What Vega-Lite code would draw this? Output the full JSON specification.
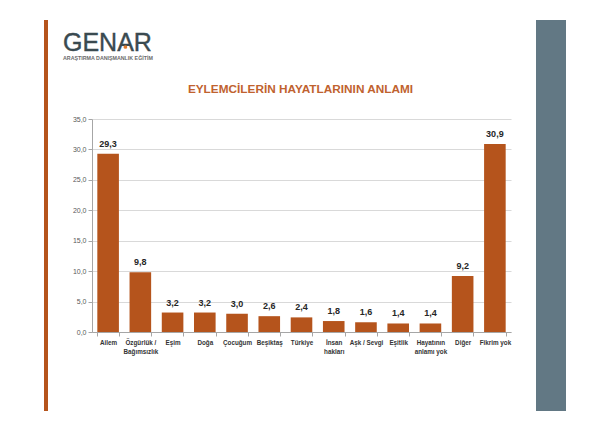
{
  "$schema": "https://vega.github.io/schema/vega-lite/v6.json",
  "width": 419,
  "height": 213,
  "autosize": {"type": "none"},
  "padding": {"left": 92, "top": 119, "right": 99, "bottom": 99},
  "background": "white",
  "config": {
    "view": {"stroke": null},
    "font": "Liberation Sans",
    "locale": {"number": {"decimal": ",", "thousands": ".", "grouping": [3], "currency": ["", " TL"]}}
  },
  "datasets": {
    "bars": [
      {"kategori": "Ailem", "deger": 29.3},
      {"kategori": "Özgürlük / Bağımsızlık", "deger": 9.8},
      {"kategori": "Eşim", "deger": 3.2},
      {"kategori": "Doğa", "deger": 3.2},
      {"kategori": "Çocuğum", "deger": 3.0},
      {"kategori": "Beşiktaş", "deger": 2.6},
      {"kategori": "Türkiye", "deger": 2.4},
      {"kategori": "İnsan hakları", "deger": 1.8},
      {"kategori": "Aşk / Sevgi", "deger": 1.6},
      {"kategori": "Eşitlik", "deger": 1.4},
      {"kategori": "Hayatının anlamı yok", "deger": 1.4},
      {"kategori": "Diğer", "deger": 9.2},
      {"kategori": "Fikrim yok", "deger": 30.9}
    ]
  },
  "layer": [
    {
      "data": {"name": "bars"},
      "encoding": {
        "x": {
          "field": "kategori",
          "type": "nominal",
          "sort": null,
          "scale": {"paddingInner": 0.33, "paddingOuter": 0.165},
          "axis": {
            "title": null,
            "labelAngle": 0,
            "tickBand": "extent",
            "tickSize": 4,
            "tickColor": "#a6a6a6",
            "domainColor": "#a6a6a6",
            "labelFontSize": 6.3,
            "labelFontWeight": "bold",
            "labelColor": "#333333",
            "labelPadding": 3,
            "labelLineHeight": 9,
            "labelExpr": "datum.value == 'Özgürlük / Bağımsızlık' ? ['Özgürlük /', 'Bağımsızlık'] : datum.value == 'İnsan hakları' ? ['İnsan', 'hakları'] : datum.value == 'Hayatının anlamı yok' ? ['Hayatının', 'anlamı yok'] : datum.value"
          }
        },
        "y": {
          "field": "deger",
          "type": "quantitative",
          "scale": {"domain": [0, 35]},
          "axis": {
            "title": null,
            "values": [0, 5, 10, 15, 20, 25, 30, 35],
            "labelOverlap": false,
            "format": ".1f",
            "grid": true,
            "gridColor": "#d9d9d9",
            "tickSize": 4,
            "tickColor": "#a6a6a6",
            "domainColor": "#a6a6a6",
            "labelFontSize": 7,
            "labelColor": "#595959",
            "labelPadding": 2
          }
        }
      },
      "layer": [
        {"mark": {"type": "bar", "color": "#B5541C"}},
        {
          "mark": {"type": "text", "dy": -5, "baseline": "bottom", "fontSize": 9, "fontWeight": "bold", "color": "#262626"},
          "encoding": {"text": {"field": "deger", "type": "quantitative", "format": ".1f"}}
        }
      ]
    },
    {
      "data": {"values": [{"t": "EYLEMCİLERİN HAYATLARININ ANLAMI"}]},
      "mark": {"type": "text", "align": "center", "baseline": "alphabetic", "fontSize": 11.8, "fontWeight": "bold", "color": "#C0622F"},
      "encoding": {"x": {"value": 208.5}, "y": {"value": -26}, "text": {"field": "t"}}
    },
    {
      "data": {"values": [{}]},
      "mark": {"type": "rect", "color": "#B5541C"},
      "encoding": {"x": {"value": -48}, "x2": {"value": -44}, "y": {"value": -99}, "y2": {"value": 292}}
    },
    {
      "data": {"values": [{}]},
      "mark": {"type": "rect", "color": "#627884"},
      "encoding": {"x": {"value": 444}, "x2": {"value": 474}, "y": {"value": -99}, "y2": {"value": 292}}
    },
    {
      "data": {"values": [{"t": "GENAR"}]},
      "mark": {"type": "text", "align": "left", "baseline": "alphabetic", "fontSize": 25, "color": "#3A4A50", "font": "Liberation Sans", "stroke": "#3A4A50", "strokeWidth": 0.4},
      "encoding": {"x": {"value": -29}, "y": {"value": -68}, "text": {"field": "t"}}
    },
    {
      "data": {"values": [{"t": "ARAŞTIRMA DANIŞMANLIK EĞİTİM"}]},
      "mark": {"type": "text", "align": "left", "baseline": "alphabetic", "fontSize": 5.3, "fontWeight": "bold", "color": "#6b6b6b", "font": "Liberation Sans"},
      "encoding": {"x": {"value": -29}, "y": {"value": -59.5}, "text": {"field": "t"}}
    },
    {
      "data": {"values": [{}]},
      "mark": {"type": "circle", "color": "#E07B2A", "opacity": 1, "size": 14},
      "encoding": {"x": {"value": 33.4}, "y": {"value": -72}}
    }
  ]
}
